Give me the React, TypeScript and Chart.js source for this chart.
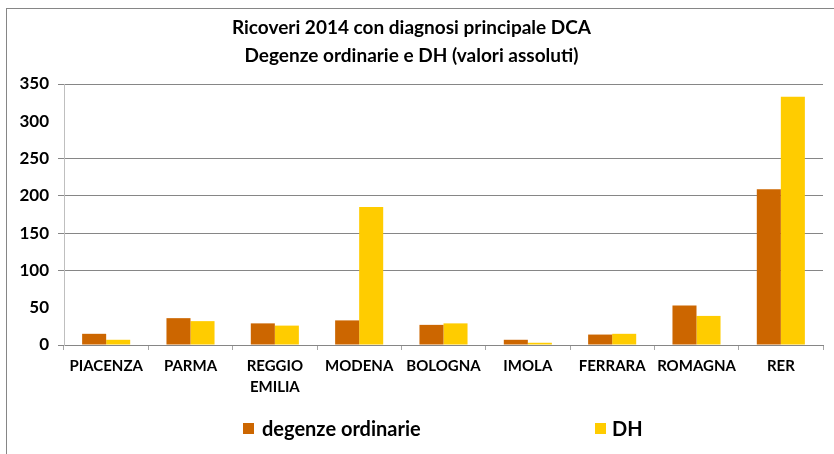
import React, { useEffect, useRef } from "react";
import { Chart, registerables } from "chart.js";

Chart.register(...registerables);

const titleLines = ["Ricoveri 2014 con diagnosi principale DCA", "Degenze ordinarie e DH (valori assoluti)"];
const categories: (string | string[])[] = ["PIACENZA", "PARMA", ["REGGIO", "EMILIA"], "MODENA", "BOLOGNA", "IMOLA", "FERRARA", "ROMAGNA", "RER"];
const seriesNames = ["degenze ordinarie", "DH"];
const degenzeOrdinarie = [15, 36, 29, 33, 27, 7, 14, 53, 209];
const dh = [7, 32, 26, 185, 29, 3, 15, 39, 333];
const seriesColors = ["#CC6600", "#FFCC00"];
const yMax = 350;
const yStep = 50;
const hiddenGridValues = [50, 300];

const FONT = "Lato, 'Open Sans', sans-serif";

export default function App() {
  const ref = useRef<HTMLCanvasElement | null>(null);

  useEffect(() => {
    if (!ref.current) return;
    const chart = new Chart(ref.current, {
      type: "bar",
      data: {
        labels: categories,
        datasets: [
          { label: seriesNames[0], data: degenzeOrdinarie, backgroundColor: seriesColors[0], barPercentage: 1, categoryPercentage: 0.57 },
          { label: seriesNames[1], data: dh, backgroundColor: seriesColors[1], barPercentage: 1, categoryPercentage: 0.57 },
        ],
      },
      options: {
        responsive: false,
        animation: false,
        layout: { padding: { left: 0, right: 11, top: 0, bottom: 0 } },
        plugins: {
          legend: { display: false },
          tooltip: { enabled: false },
          title: {
            display: true,
            text: titleLines,
            color: "#000",
            font: { family: FONT, size: 19, weight: "bold", lineHeight: 28 / 19 },
            padding: { top: 14, bottom: 14 },
          },
        },
        scales: {
          x: {
            grid: {
              display: true,
              drawOnChartArea: false,
              drawTicks: true,
              tickLength: 5,
              color: "#A6A6A6",
              offset: true,
            },
            border: { color: "#868686" },
            ticks: {
              color: "#000",
              font: { family: FONT, size: 15, weight: "bold", lineHeight: 1.4 },
              padding: 6,
              maxRotation: 0,
              autoSkip: false,
            },
            afterFit: (scale: any) => {
              scale.height = 109;
            },
          },
          y: {
            min: 0,
            max: yMax,
            grid: {
              color: (ctx: any) =>
                ctx.tick && hiddenGridValues.includes(ctx.tick.value) ? "rgba(0,0,0,0)" : "#868686",
              tickLength: 6,
            },
            border: { color: "#BFBFBF" },
            ticks: {
              stepSize: yStep,
              color: "#000",
              font: { family: FONT, size: 17, weight: "bold" },
              padding: 9,
            },
            afterFit: (scale: any) => {
              scale.width = 64;
            },
          },
        },
      },
    });
    return () => chart.destroy();
  }, []);

  const legendItem = (i: number, boxLeft: number) => (
    <div
      key={i}
      style={{
        position: "absolute",
        left: boxLeft,
        top: 415,
        height: 26,
        display: "flex",
        alignItems: "center",
        fontFamily: FONT,
        fontWeight: "bold",
        fontSize: 20,
        color: "#000",
        whiteSpace: "nowrap",
      }}
    >
      <span style={{ display: "inline-block", width: 11, height: 11, background: seriesColors[i], marginRight: i === 0 ? 8 : 6 }} />
      <span>{seriesNames[i]}</span>
    </div>
  );

  return (
    <div style={{ position: "fixed", left: 0, top: 0, width: 834, height: 454, background: "#fff", overflow: "hidden" }}>
      <div
        style={{
          position: "absolute",
          left: 6,
          top: 8,
          width: 900,
          height: 500,
          borderTop: "1px solid #868686",
          borderLeft: "1px solid #868686",
        }}
      />
      <canvas ref={ref} width={834} height={454} style={{ position: "absolute", left: 0, top: 0 }} />
      {legendItem(0, 243)}
      {legendItem(1, 595)}
    </div>
  );
}
